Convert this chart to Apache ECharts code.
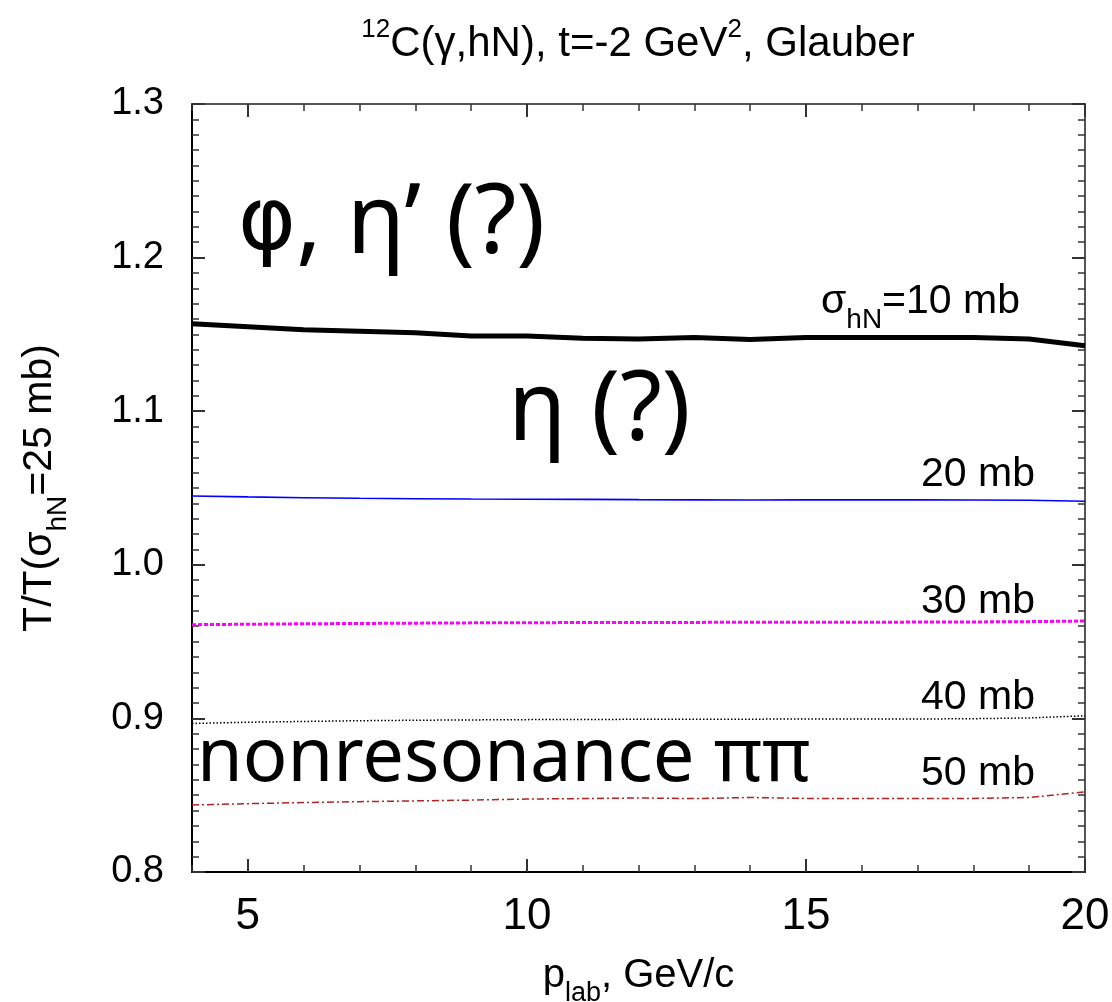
<!DOCTYPE html>
<html><head><meta charset="utf-8">
<script src="https://cdn.jsdelivr.net/npm/echarts@6/dist/echarts.min.js"></script>
<style>html,body{margin:0;padding:0;background:#fff}#c{width:1112px;height:1002px}</style>
</head><body><div id="c"></div><script>
const pLab = [4,5,6,7,8,9,10,11,12,13,14,15,16,17,18,19,20];
const sigma10 = [1.157,1.155,1.153,1.152,1.151,1.149,1.149,1.1475,1.147,1.148,1.1467,1.148,1.148,1.148,1.148,1.147,1.1426];
const sigma20 = [1.0448,1.0442,1.0437,1.0433,1.0430,1.0428,1.0427,1.0426,1.0424,1.0423,1.0422,1.0423,1.0423,1.0423,1.0422,1.0420,1.0414];
const sigma30 = [0.9610,0.9613,0.9616,0.9618,0.9620,0.9622,0.9623,0.9624,0.9625,0.9625,0.9626,0.9626,0.9626,0.9627,0.9628,0.9630,0.9634];
const sigma40 = [0.8967,0.8975,0.8980,0.8985,0.8988,0.8990,0.8992,0.8993,0.8994,0.8995,0.8995,0.8996,0.8996,0.8996,0.8998,0.9003,0.9017];
const sigma50 = [0.8436,0.8445,0.8452,0.8458,0.8463,0.8468,0.8475,0.8478,0.8482,0.8478,0.8485,0.8479,0.8479,0.8478,0.8479,0.8485,0.8522];
const xTickLabels = [5,10,15,20];
const curveLabels = ['{m|σ}{sub|hN}{m|=10 mb}','{m|20 mb}','{m|30 mb}','{m|40 mb}','{m|50 mb}'];
const annotations = ['{phi|φ}{t|, η’ (?)}','{t|η (?)}','{n|nonresonance ππ}'];

const FF = '"Liberation Sans", Arial, Helvetica, sans-serif';
function richSet(F){
  return {
    m:{fontFamily:FF,fontSize:F,lineHeight:F+6,verticalAlign:'top',color:'#000'},
    sub:{fontFamily:FF,fontSize:Math.round(F*0.68),lineHeight:Math.round(F*0.68),padding:[Math.round(F*0.6),0,0,0],verticalAlign:'top',color:'#000'}
  };
}
function titleRich(F){
  return {
    m:{fontFamily:FF,fontSize:F,lineHeight:F+6,padding:[13,0,0,0],verticalAlign:'bottom',color:'#000'},
    sup:{fontFamily:FF,fontSize:Math.round(F*0.62),lineHeight:Math.round(F*0.62),verticalAlign:'top',color:'#000'}
  };
}
const bigRich = {
  phi:{fontFamily:'"DejaVu Sans", sans-serif',fontSize:88,lineHeight:110,color:'#000'},
  t:{fontFamily:'"Noto Sans", sans-serif',fontSize:96,lineHeight:110,color:'#000'},
  n:{fontFamily:'"Noto Sans", sans-serif',fontSize:74,lineHeight:90,color:'#000'}
};
const pairs = arr => pLab.map((x,i)=>[x,arr[i]]);

const chart = echarts.init(document.getElementById('c'), null, {renderer:'canvas'});
const axisCommon = {min:4,max:20,splitLine:{show:false}};
const option = {
  animation:false,
  backgroundColor:'#fff',
  grid:{left:192,right:27,top:104,bottom:130,containLabel:false,outerBoundsMode:'none'},
  xAxis:[
    Object.assign({type:'value',position:'bottom',
      axisLine:{show:true,lineStyle:{color:'#000',width:2}},
      axisTick:{show:true,inside:true,length:13,customValues:xTickLabels,lineStyle:{color:'#333',width:2}},
      axisLabel:{show:true,customValues:xTickLabels,fontFamily:FF,fontSize:44,color:'#000',margin:23},
      name:'{m|p}{sub|lab}{m|, GeV/c}',nameLocation:'middle',nameGap:84,
      nameTextStyle:{rich:richSet(40)}
    },axisCommon),
    Object.assign({type:'value',position:'bottom',interval:1,
      axisLine:{show:false},
      axisTick:{show:true,inside:true,length:7,lineStyle:{color:'#333',width:1.5}},
      axisLabel:{show:false}},axisCommon),
    Object.assign({type:'value',position:'top',
      axisLine:{show:true,lineStyle:{color:'#555',width:2}},
      axisTick:{show:true,inside:true,length:13,customValues:xTickLabels,lineStyle:{color:'#333',width:2}},
      axisLabel:{show:false}},axisCommon),
    Object.assign({type:'value',position:'top',interval:1,
      axisLine:{show:false},
      axisTick:{show:true,inside:true,length:7,lineStyle:{color:'#333',width:1.5}},
      axisLabel:{show:false}},axisCommon)
  ],
  yAxis:[
    {type:'value',position:'left',min:0.8,max:1.3,interval:0.1,splitLine:{show:false},
      axisLine:{show:true,lineStyle:{color:'#000',width:2}},
      axisTick:{show:true,inside:true,length:13,lineStyle:{color:'#333',width:2}},
      minorTick:{show:true,splitNumber:10,length:7,lineStyle:{color:'#333',width:1.5}},
      axisLabel:{fontFamily:FF,fontSize:38,color:'#000',margin:28,formatter:v=>v.toFixed(1)},
      name:'{m|T/T(σ}{sub|hN}{m|=25 mb)}',nameLocation:'middle',nameRotate:90,nameGap:126,
      nameTextStyle:{rich:richSet(41)}
    },
    {type:'value',position:'right',min:0.8,max:1.3,interval:0.1,splitLine:{show:false},
      axisLine:{show:true,lineStyle:{color:'#555',width:2}},
      axisTick:{show:true,inside:true,length:13,lineStyle:{color:'#333',width:2}},
      minorTick:{show:true,splitNumber:10,length:7,lineStyle:{color:'#333',width:1.5}},
      axisLabel:{show:false}}
  ],
  series:[
    {name:'10 mb',type:'line',xAxisIndex:0,yAxisIndex:0,data:pairs(sigma10),showSymbol:false,
      lineStyle:{color:'#000',width:5},z:5},
    {name:'20 mb',type:'line',xAxisIndex:0,yAxisIndex:0,data:pairs(sigma20),showSymbol:false,
      lineStyle:{color:'#0000ff',width:1.6}},
    {name:'30 mb',type:'line',xAxisIndex:0,yAxisIndex:0,data:pairs(sigma30),showSymbol:false,
      lineStyle:{color:'#ff00ff',width:3,type:[4,2]}},
    {name:'40 mb',type:'line',xAxisIndex:0,yAxisIndex:0,data:pairs(sigma40),showSymbol:false,
      lineStyle:{color:'#000',width:1.5,type:[1.5,2]}},
    {name:'50 mb',type:'line',xAxisIndex:0,yAxisIndex:0,data:pairs(sigma50),showSymbol:false,
      lineStyle:{color:'#b22222',width:1.5,type:[7,3,2,3]}}
  ],
  graphic:[
    {type:'text',x:638,y:17,style:{text:'{sup|12}{m|C(γ,hN), t=-2 GeV}{sup|2}{m|, Glauber}',rich:titleRich(42),textAlign:'center',textVerticalAlign:'top'}},
    {type:'text',x:1020,y:305,style:{text:curveLabels[0],rich:richSet(41),textAlign:'right',textVerticalAlign:'middle'}},
    {type:'text',x:1035,y:478,style:{text:curveLabels[1],rich:richSet(41),textAlign:'right',textVerticalAlign:'middle'}},
    {type:'text',x:1035,y:605,style:{text:curveLabels[2],rich:richSet(41),textAlign:'right',textVerticalAlign:'middle'}},
    {type:'text',x:1035,y:701,style:{text:curveLabels[3],rich:richSet(41),textAlign:'right',textVerticalAlign:'middle'}},
    {type:'text',x:1035,y:777,style:{text:curveLabels[4],rich:richSet(41),textAlign:'right',textVerticalAlign:'middle'}},
    {type:'text',x:238,y:226,style:{text:annotations[0],rich:bigRich,textAlign:'left',textVerticalAlign:'middle'}},
    {type:'text',x:508,y:413,style:{text:annotations[1],rich:bigRich,textAlign:'left',textVerticalAlign:'middle'}},
    {type:'text',x:197,y:760,style:{text:annotations[2],rich:bigRich,textAlign:'left',textVerticalAlign:'middle'}}
  ]
};
chart.setOption(option);
</script></body></html>
